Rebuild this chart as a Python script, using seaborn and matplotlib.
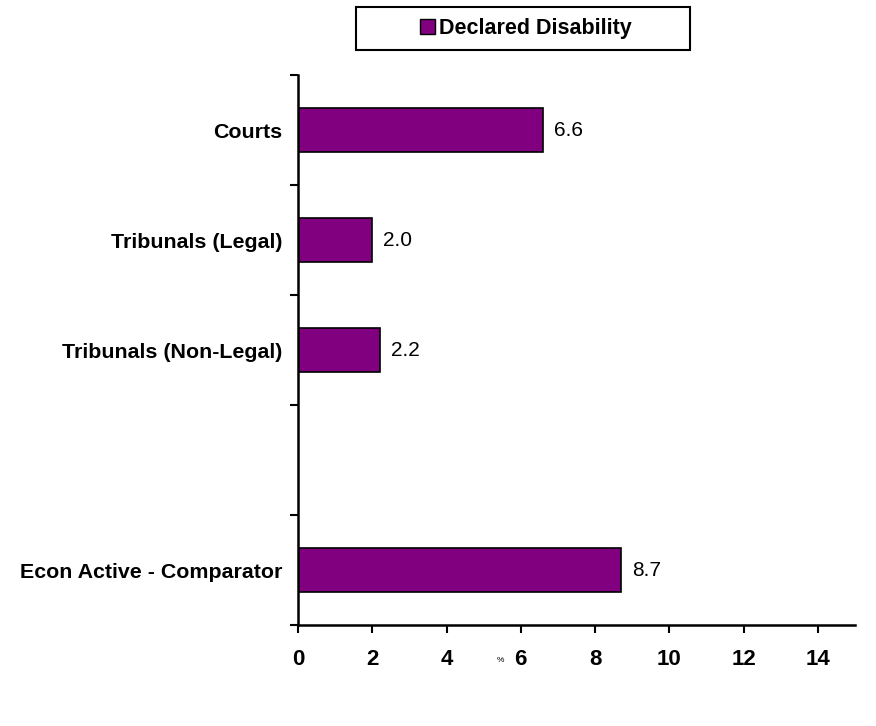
import numpy as np
import pandas as pd
import matplotlib
matplotlib.use("Agg")
import matplotlib.pyplot as plt
from matplotlib.patches import Rectangle, Patch
import seaborn as sns

categories = ["Courts", "Tribunals (Legal)", "Tribunals (Non-Legal)", " ", "Econ Active - Comparator"]
labels_with_data = ["Courts", "Tribunals (Legal)", "Tribunals (Non-Legal)", "Econ Active - Comparator"]
values = [6.6, 2.0, 2.2, 8.7]
series_name = "Declared Disability"
x_ticks = [0, 2, 4, 6, 8, 10, 12, 14]

sns.set_theme(style="white")
plt.rcParams["font.family"] = ["Liberation Sans", "DejaVu Sans"]
plt.rcParams["text.color"] = "black"
plt.rcParams["xtick.color"] = "black"
plt.rcParams["ytick.color"] = "black"
plt.rcParams["axes.labelcolor"] = "black"

df = pd.DataFrame({"category": labels_with_data, "value": values})

fig = plt.figure(figsize=(8.76, 7.26), dpi=100, facecolor="white")
ax = fig.add_axes([298 / 876, 1 - 625 / 726, 557 / 876, 550 / 726])
ax.set_facecolor("none")

bar_color = "#800080"
sns.barplot(data=df, x="value", y="category", order=categories, orient="h",
            color=bar_color, saturation=1, width=0.4, edgecolor="black",
            linewidth=1.2, ax=ax)

ax.set_xlim(0, 15)
ax.set_ylim(4.5, -0.5)
ax.set_xticks(x_ticks)
ax.set_xticklabels([str(t) for t in x_ticks], fontsize=16, fontweight="bold")
ax.set_yticks(range(len(categories)))
ax.set_yticklabels(categories, fontsize=15.4, fontweight="bold")
ax.tick_params(axis="y", which="major", length=0, pad=11)
ax.set_yticks(np.arange(-0.5, len(categories), 1.0), minor=True)
ax.tick_params(axis="y", which="minor", length=6, width=1.5, color="black", left=True)
ax.tick_params(axis="x", which="major", length=6, width=1.5, color="black",
               bottom=True, pad=11)

for side in ["top", "right"]:
    ax.spines[side].set_visible(False)
for side in ["left", "bottom"]:
    ax.spines[side].set_color("black")
    ax.spines[side].set_linewidth(1.8)

ax.set_ylabel("")
ax.set_xlabel("%", fontsize=6)
ax.xaxis.set_label_coords((500 - 298) / 557, -0.058)

# value labels to the right of each bar
for cat, val in zip(labels_with_data, values):
    ax.annotate(f"{val:.1f}", xy=(val, categories.index(cat)), xytext=(8, 0),
                textcoords="offset points", va="center", ha="left",
                fontsize=15, color="black")

# legend with a wide framed box
fig.patches.append(Rectangle((356 / 876, 1 - 50 / 726), 334 / 876, 43 / 726,
                             transform=fig.transFigure, facecolor="white",
                             edgecolor="black", linewidth=1.5, zorder=0))
handle = Patch(facecolor=bar_color, edgecolor="black", linewidth=1.0)
fig.legend([handle], [series_name], loc="center",
           bbox_to_anchor=(526 / 876, 1 - 28.5 / 726), frameon=False,
           prop={"size": 15.5, "weight": "bold"}, handlelength=0.7,
           handleheight=0.7, handletextpad=0.2)

fig.savefig("out.png", dpi=100, facecolor="white")
